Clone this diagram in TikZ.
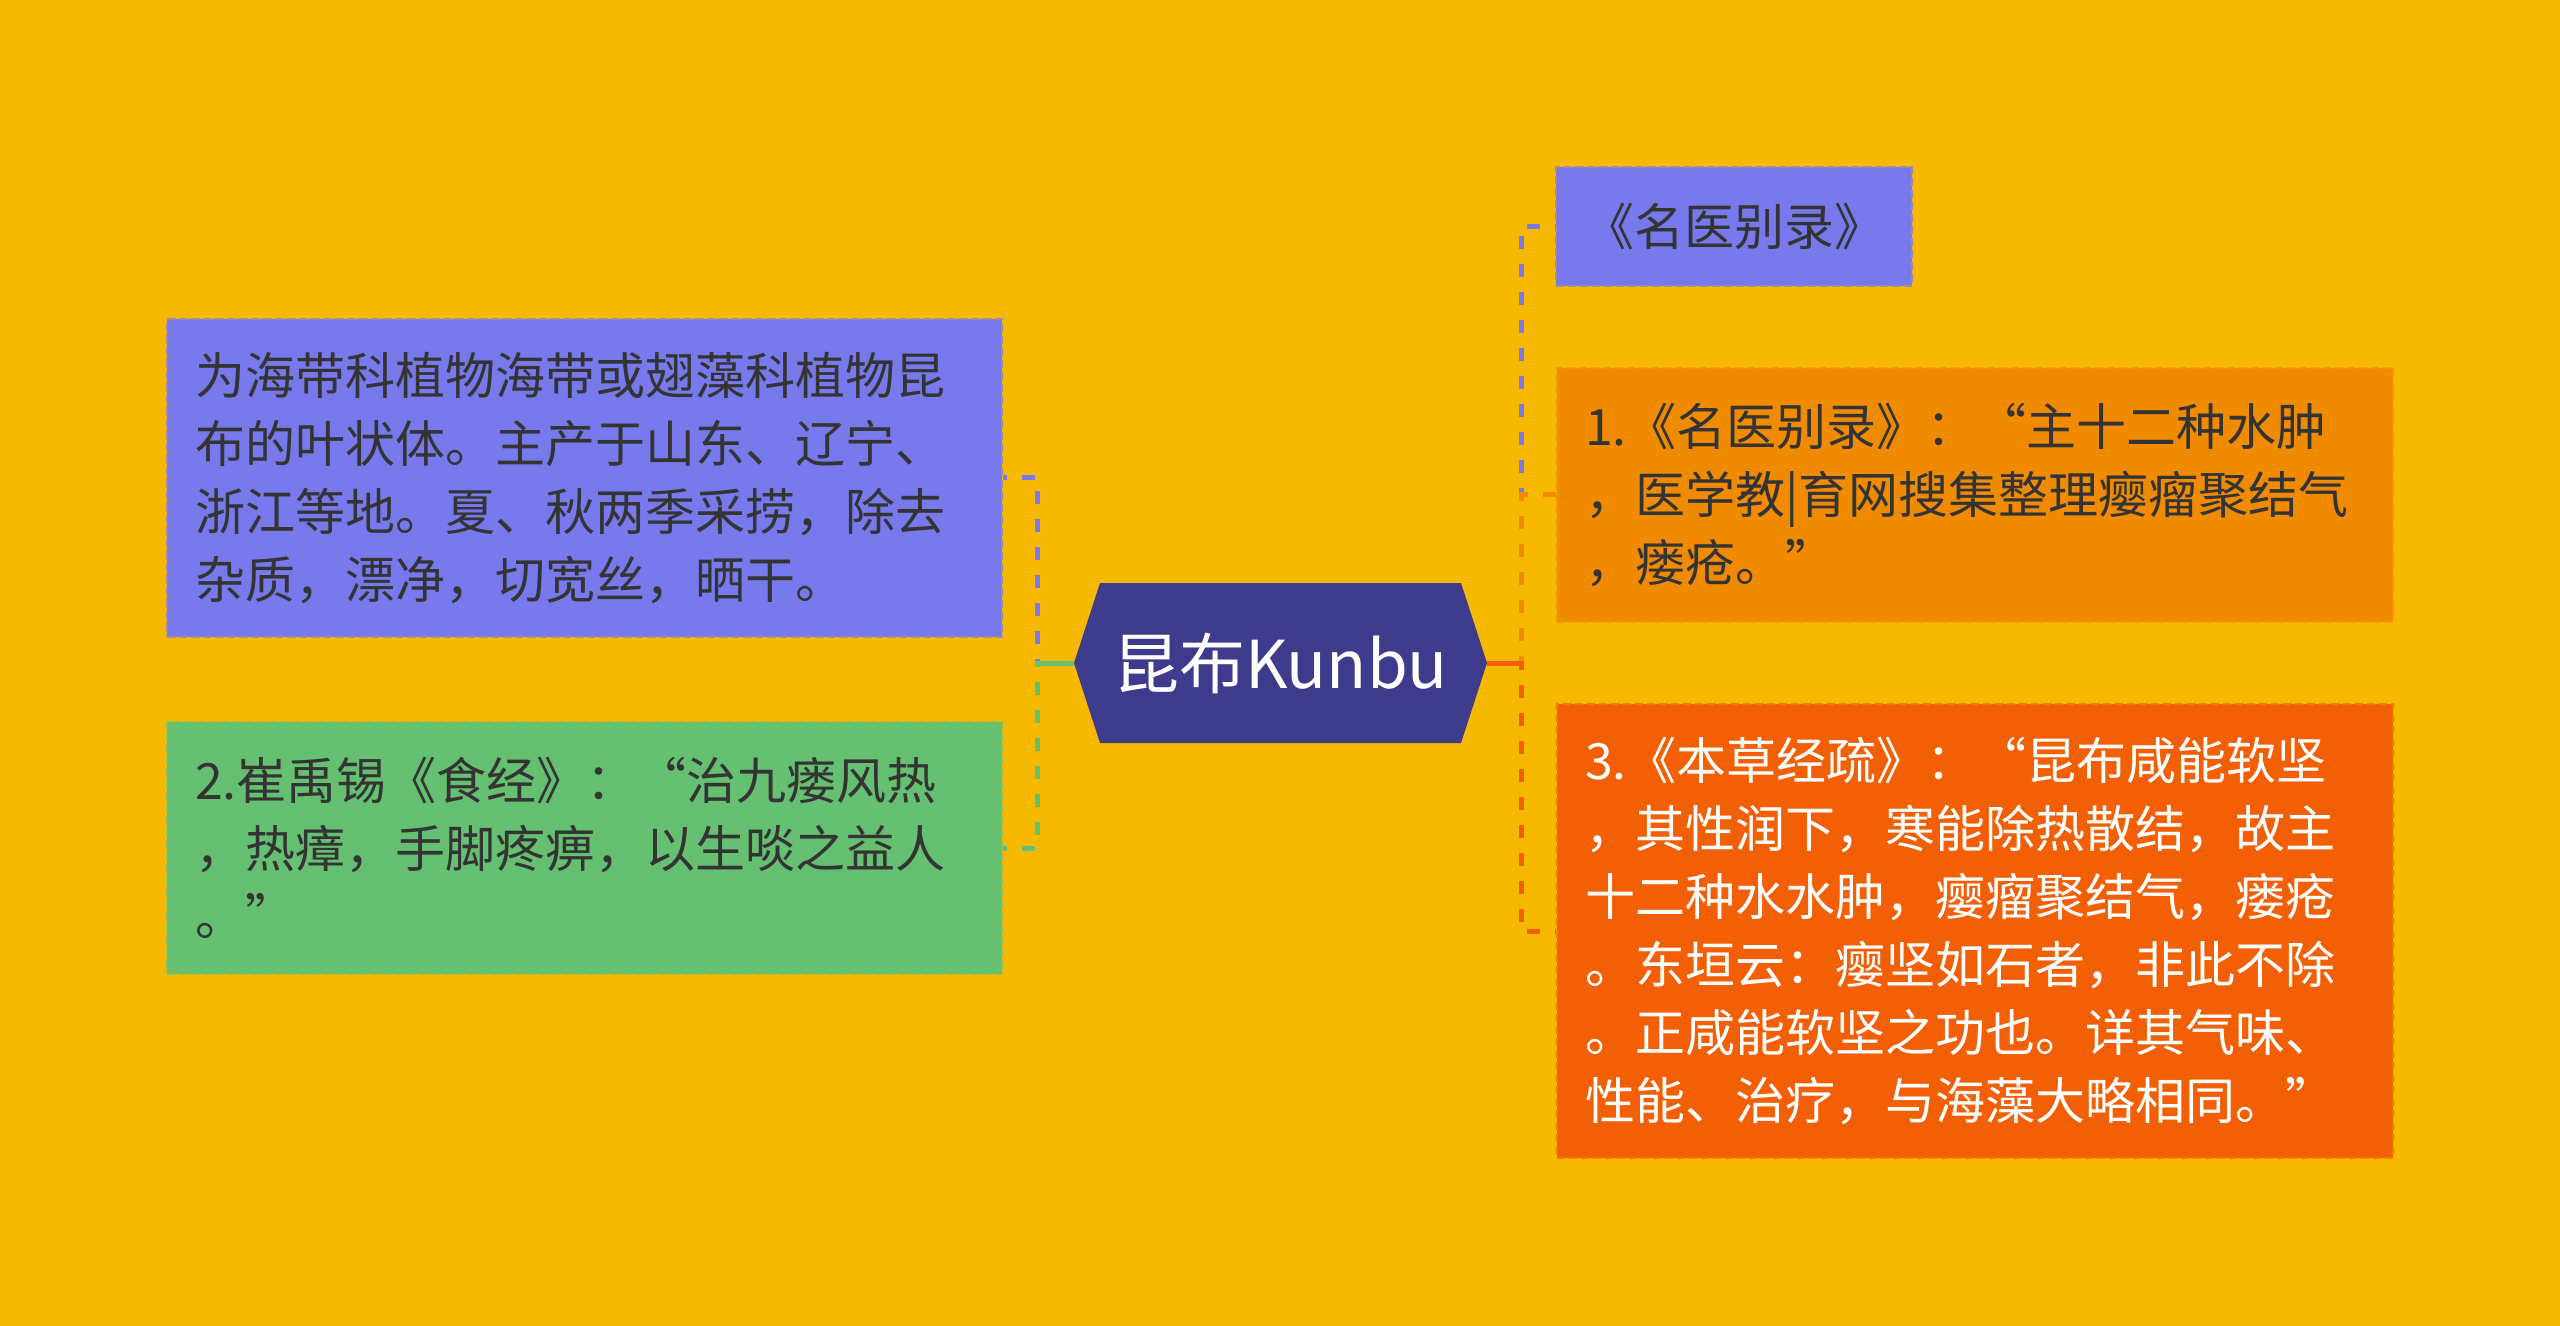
\documentclass[tikz,border=0pt]{standalone}
\usepackage{fontspec}
\setmainfont{Noto Sans CJK SC}
\usetikzlibrary{shapes.symbols}
\definecolor{kbbg}{HTML}{F6B900}
\definecolor{kbink}{HTML}{333333}
\definecolor{kbhub}{HTML}{3E3A8C}
\definecolor{kbviolet}{HTML}{7879EC}
\definecolor{kbgreen}{HTML}{66C072}
\definecolor{kborange}{HTML}{F08B00}
\definecolor{kbred}{HTML}{F35F05}
\tikzset{
  kb hub/.style={signal, signal to=east and west, signal pointer angle=144,
    fill=kbhub, text=white, font=\fontsize{33}{38}\selectfont,
    minimum width=206.5pt, minimum height=80pt, inner sep=0pt},
  kb box/.style={fill=#1, draw=#1!70!kbbg, line width=0.8pt,
    dash pattern=on 4pt off 2pt, align=left, inner xsep=14pt, inner ysep=0pt,
    font=\fontsize{25}{34}\selectfont, text=kbink},
  kb link/.style={draw=#1, line width=2.5pt, dash pattern=on 6.5pt off 7.5pt},
  kb stub/.style={draw=#1, line width=2.5pt}
}

\begin{document}
\begin{tikzpicture}[x=0.5pt, y=-0.5pt]
  \fill[kbbg] (0,0) rectangle (2560,1326);
  \useasboundingbox (0,0) rectangle (2560,1326);
  % centre topic
  \node[kb hub] (kunbu) at (1280.5,663) {昆布Kunbu};
  % right side
  \node[kb box=kbviolet, minimum width=176pt, minimum height=59.5pt, align=center] (bielu) at (1734,226.5) {《名医别录》};
  \node[kb box=kborange, minimum width=418pt, text width=390pt, minimum height=127pt] (bieluquote) at (1975,495)
    {1.《名医别录》：“主十二种水肿\\，医学教|育网搜集整理瘿瘤聚结气\\，瘘疮。”};
  \node[kb box=kbred, text=white, minimum width=418pt, text width=390pt, minimum height=227pt] (jingshu) at (1975,931)
    {3.《本草经疏》：“昆布咸能软坚\\，其性润下，寒能除热散结，故主\\十二种水水肿，瘿瘤聚结气，瘘疮\\。东垣云：瘿坚如石者，非此不除\\。正咸能软坚之功也。详其气味、\\性能、治疗，与海藻大略相同。”};
  % left side
  \node[kb box=kbviolet, minimum width=417.5pt, text width=389.5pt, minimum height=159pt] (chandi) at (584.5,478)
    {为海带科植物海带或翅藻科植物昆\\布的叶状体。主产于山东、辽宁、\\浙江等地。夏、秋两季采捞，除去\\杂质，漂净，切宽丝，晒干。};
  \node[kb box=kbgreen, minimum width=417.5pt, text width=389.5pt, minimum height=126pt] (shijing) at (584.5,848)
    {2.崔禹锡《食经》：“治九瘘风热\\，热瘴，手脚疼痹，以生啖之益人\\。”};
  % connectors
  \coordinate (trunkR) at (1521,663);
  \coordinate (trunkL) at (1037,663);
  \foreach \child/\tone in {bielu/kbviolet, bieluquote/kborange, jingshu/kbred}
    \draw[kb link=\tone] (kunbu.east) -- (trunkR) |- (\child.west);
  \foreach \child/\tone in {chandi/kbviolet, shijing/kbgreen}
    \draw[kb link=\tone] (kunbu.west) -- (trunkL) |- (\child.east);
  \draw[kb stub=kbred] (kunbu.east) -- (trunkR);
  \draw[kb stub=kbgreen] (kunbu.west) -- (trunkL);
\end{tikzpicture}
\end{document}
